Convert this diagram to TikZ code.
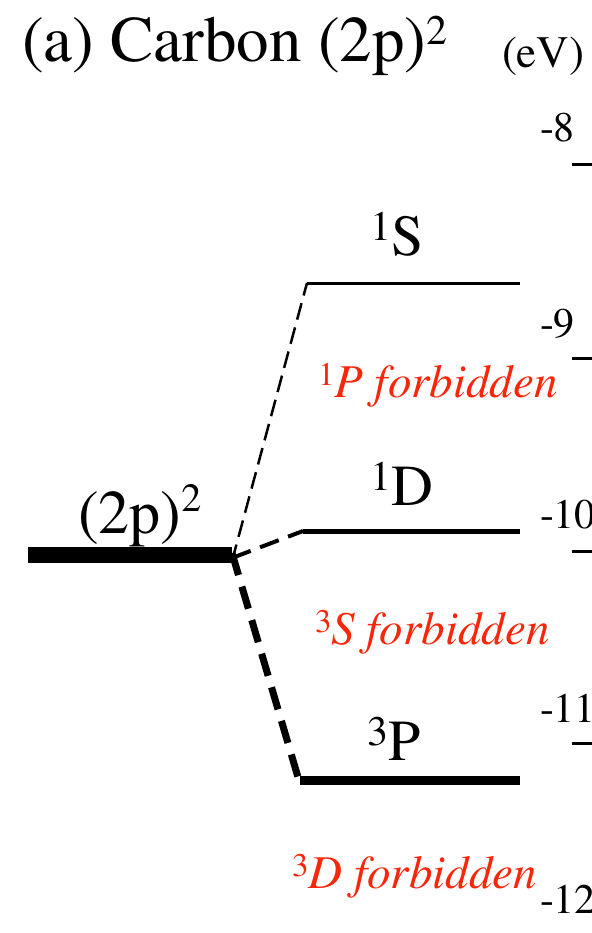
\documentclass[tikz,border=0pt]{standalone}
\usepackage[T1]{fontenc}
\usepackage{mathptmx}
\definecolor{lblred}{RGB}{250,38,10}
\newcommand{\fsz}[1]{\rmfamily\fontsize{#1}{#1}\selectfont}
\tikzset{
  txt/.style={inner sep=0pt, outer sep=0pt, anchor=base west},
  lvl/.style={line cap=butt},
  forb/.style={txt, text=lblred},
  ticklbl/.style={txt, font=\fsz{42}},
  tickmark/.style={line width=3pt},
}
\begin{document}
\begin{tikzpicture}[x=1pt,y=-1pt]
\useasboundingbox (0,0) rectangle (591,933);
% title
\node[txt, font=\fsz{65}] (title) at (22,62) {(a) Carbon (2p)\raisebox{17pt}{\fsz{42}2}};
\node[txt, font=\fsz{45}] (ev) at (502,68) {(eV)};
% coordinates
\coordinate (c0) at (28,555);
\coordinate (c) at (232,555);
\coordinate (sA) at (307,283);
\coordinate (sB) at (520,283);
\coordinate (dA) at (303,531);
\coordinate (dB) at (520,531);
\coordinate (pA) at (300,780);
\coordinate (pB) at (520,780);
% levels
\draw[lvl, line width=16pt] (c0) -- (c);
\draw[lvl, line width=3pt] (sA) -- (sB);
\draw[lvl, line width=5pt] (dA) -- (dB);
\draw[lvl, line width=9pt] (pA) -- (pB);
% connectors
\draw[line width=2.5pt, dash pattern=on 17pt off 8pt] ([yshift=-6pt]c) -- (sA);
\draw[line width=4pt, dash pattern=on 20pt off 10pt] ([yshift=-3pt]c) -- (dA);
\draw[line width=7pt, dash pattern=on 23pt off 12pt] ([yshift=2pt]c) -- ([yshift=-4pt]pA);
% level labels
\node[txt, font=\fsz{62}] (l2p) at (78,533) {(2p)\raisebox{22pt}{\fsz{40}2}};
\node[txt, font=\fsz{58}] (l1S) at (370,255) {\raisebox{15pt}{\fsz{42}1}S};
\node[txt, font=\fsz{58}] (l1D) at (370,505) {\raisebox{15pt}{\fsz{42}1}D};
\node[txt, font=\fsz{58}] (l3P) at (367,760) {\raisebox{15pt}{\fsz{42}3}P};
% forbidden labels
\node[forb, font=\fsz{47}] (f1) at (318,397) {\raisebox{12pt}{\fsz{33}1}\itshape P forbidden};
\node[forb, font=\fsz{47}] (f2) at (315,644) {\raisebox{12pt}{\fsz{33}3}\itshape S forbidden};
\node[forb, font=\fsz{47}] (f3) at (292,888) {\raisebox{12pt}{\fsz{33}3}\itshape D forbidden};
% axis ticks
\foreach \lab/\ty/\by in {-8/165/142, -9/358/337, -10/551/528, -11/743/722, -12/936/913}{
  \node[ticklbl] (t\ty) at (540,\by) {\lab};
  \coordinate (ta\ty) at (572,\ty);
  \coordinate (tb\ty) at (600,\ty);
  \draw[tickmark] (ta\ty) -- (tb\ty);
}
\end{tikzpicture}
\end{document}
